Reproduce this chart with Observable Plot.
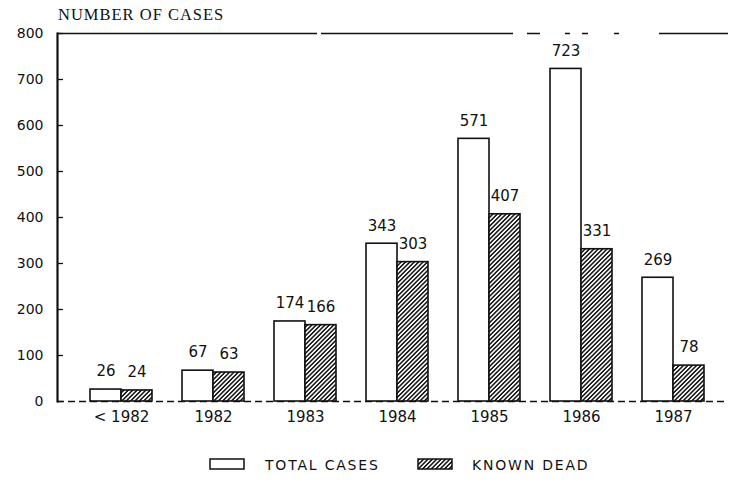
<!DOCTYPE html>
<html>
<head>
<meta charset="utf-8">
<script src="https://cdn.jsdelivr.net/npm/d3@7"></script>
<script src="https://cdn.jsdelivr.net/npm/@observablehq/plot@0.6"></script>
<style>
  html, body { margin: 0; padding: 0; background: white; }
  #wrap { position: relative; width: 729px; height: 485px; overflow: hidden; background: white; }
  #title { position: absolute; left: 58px; top: 5px; font-family: "Liberation Serif", serif; font-size: 16.5px; letter-spacing: 1px; color: #111; }
  #chart { position: absolute; left: 0; top: 0; }
  #legend { position: absolute; left: 0; top: 452px; }
</style>
</head>
<body>
<div id="wrap">
  <div id="chart"></div>
  <div id="title">NUMBER OF CASES</div>
  <div id="legend"></div>
</div>
<script>
const years = ["< 1982", "1982", "1983", "1984", "1985", "1986", "1987"];
const totalCases = [26, 67, 174, 343, 571, 723, 269];
const knownDead = [24, 63, 166, 303, 407, 331, 78];
const seriesNames = ["TOTAL CASES", "KNOWN DEAD"];
const yTicks = [0, 100, 200, 300, 400, 500, 600, 700, 800];

const totals = years.map((year, i) => ({year, value: totalCases[i]}));
const dead = years.map((year, i) => ({year, value: knownDead[i]}));

const hatchDef = id => `<pattern id="${id}" patternUnits="userSpaceOnUse" width="3.1" height="3.1" patternTransform="rotate(45)"><rect width="3.1" height="3.1" fill="white"/><line x1="0.8" y1="0" x2="0.8" y2="3.1" stroke="#111" stroke-width="1.5"/></pattern>`;

const chart = Plot.plot({
  width: 729,
  height: 430,
  marginTop: 33,
  marginBottom: 29,
  marginLeft: 57,
  marginRight: 1,
  x: {domain: years, range: [72.7, 721.3], paddingInner: 0.33, paddingOuter: 0.165, label: null},
  y: {domain: [0, 800], label: null},
  style: {fontFamily: "DejaVu Sans", fontSize: "14px", color: "#111", background: "white", overflow: "visible"},
  marks: [
    Plot.ruleY([800], {stroke: "#111", strokeWidth: 1.5, strokeDasharray: "260 4 192 14 13 25 5 12 6 26 5 40 80"}),
    Plot.ruleY([0], {stroke: "#111", strokeWidth: 1.5, strokeDasharray: "7 4"}),
    Plot.ruleY(yTicks, {stroke: "#111", strokeWidth: 1.3, insetRight: 665}),
    Plot.barY(totals, {x: "year", y: "value", fill: "white", stroke: "#111", strokeWidth: 1.6, insetRight: 31}),
    Plot.barY(dead, {x: "year", y: "value", fill: "url(#hatch)", stroke: "#111", strokeWidth: 1.6, insetLeft: 31}),
    Plot.text(totals, {x: "year", y: "value", text: d => String(d.value), dx: -15.5, dy: -18, fontSize: 15, fill: "#111"}),
    Plot.text(dead, {x: "year", y: "value", text: d => String(d.value), dx: 15.5, dy: -18, fontSize: 15, fill: "#111"}),
    Plot.frame({anchor: "left", stroke: "#111", strokeWidth: 2.2}),
    Plot.axisY(yTicks, {tickSize: 0, tickPadding: 14, fontSize: 14, label: null}),
    Plot.axisX({tickSize: 0, tickPadding: 10, fontSize: 15, label: null})
  ]
});

const ns = "http://www.w3.org/2000/svg";
const defs = document.createElementNS(ns, "defs");
defs.innerHTML = hatchDef("hatch");
chart.insertBefore(defs, chart.firstChild);
document.getElementById("chart").appendChild(chart);

// legend
const leg = d3.select("#legend").append("svg").attr("width", 729).attr("height", 30);
leg.append("defs").html(hatchDef("hatch2"));
const items = [
  {name: seriesNames[0], fill: "white", bx: 210, tx: 265},
  {name: seriesNames[1], fill: "url(#hatch2)", bx: 418, tx: 472}
];
const g = leg.selectAll("g").data(items).join("g");
g.append("rect").attr("x", d => d.bx).attr("y", 7).attr("width", 34).attr("height", 10)
  .attr("fill", d => d.fill).attr("stroke", "#111").attr("stroke-width", 1.5);
g.append("text").attr("x", d => d.tx).attr("y", 17.5)
  .attr("font-family", "DejaVu Sans").attr("font-size", 14).attr("letter-spacing", "1.8px")
  .attr("fill", "#111").text(d => d.name);
</script>
</body>
</html>
